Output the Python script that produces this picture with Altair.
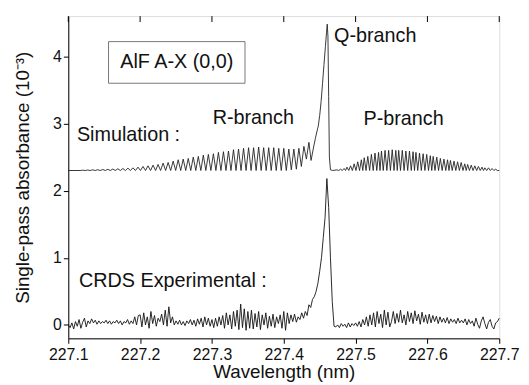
import altair as alt
import pandas as pd

# ---------------- data ----------------
# Simulated spectrum (offset baseline 2.30)
sim_baseline = 2.30
r_pos = [227.120, 227.127, 227.134, 227.141, 227.148, 227.155, 227.162, 227.169, 227.176, 227.183,
         227.190, 227.197, 227.204, 227.211, 227.218, 227.225, 227.232, 227.239, 227.246, 227.253,
         227.260, 227.267, 227.274, 227.281, 227.288, 227.295, 227.302, 227.309, 227.316, 227.323,
         227.330, 227.337, 227.344, 227.351, 227.358, 227.365, 227.372, 227.379, 227.386, 227.393,
         227.400, 227.407, 227.414, 227.421, 227.428, 227.435]
r_peak = [2.305, 2.307, 2.310, 2.312, 2.315, 2.318, 2.322, 2.326, 2.330, 2.335,
          2.340, 2.350, 2.360, 2.370, 2.380, 2.390, 2.410, 2.420, 2.440, 2.460,
          2.470, 2.480, 2.500, 2.510, 2.530, 2.540, 2.550, 2.570, 2.580, 2.590,
          2.610, 2.620, 2.630, 2.640, 2.640, 2.650, 2.640, 2.640, 2.640, 2.630,
          2.630, 2.620, 2.620, 2.630, 2.660, 2.720]
r_trough = [2.30, 2.30, 2.30, 2.30, 2.30, 2.30, 2.30, 2.30, 2.30, 2.30,
            2.30, 2.30, 2.30, 2.30, 2.30, 2.30, 2.30, 2.30, 2.30, 2.30,
            2.30, 2.30, 2.30, 2.30, 2.30, 2.30, 2.30, 2.30, 2.30, 2.30,
            2.30, 2.30, 2.30, 2.30, 2.30, 2.30, 2.30, 2.30, 2.30, 2.30,
            2.30, 2.31, 2.32, 2.36, 2.47]
q_x = [227.438, 227.441, 227.444, 227.447, 227.448, 227.450, 227.452, 227.454, 227.456,
       227.458, 227.4595, 227.4605, 227.4615, 227.4625, 227.4635, 227.465, 227.468]
q_y = [2.45, 2.62, 2.78, 2.92, 2.96, 3.12, 3.33, 3.60, 3.88,
       4.15, 4.35, 4.48, 4.30, 3.40, 2.50, 2.31, 2.30]
p_pos = [227.474, 227.479, 227.484, 227.488, 227.493, 227.498, 227.503, 227.508, 227.512, 227.517,
         227.522, 227.527, 227.532, 227.536, 227.541, 227.546, 227.551, 227.556, 227.560, 227.565,
         227.570, 227.575, 227.580, 227.584, 227.589, 227.594, 227.599, 227.604, 227.608, 227.613,
         227.618, 227.623, 227.628, 227.632, 227.637, 227.642, 227.647, 227.652, 227.656, 227.661,
         227.666, 227.671, 227.676, 227.680, 227.685, 227.690, 227.695]
p_peak = [2.31, 2.32, 2.33, 2.35, 2.37, 2.40, 2.43, 2.46, 2.49, 2.51,
          2.54, 2.56, 2.57, 2.59, 2.60, 2.60, 2.61, 2.60, 2.60, 2.60,
          2.59, 2.59, 2.58, 2.57, 2.56, 2.55, 2.54, 2.52, 2.51, 2.50,
          2.48, 2.47, 2.46, 2.45, 2.44, 2.43, 2.42, 2.40, 2.39, 2.38,
          2.37, 2.36, 2.35, 2.34, 2.34, 2.33, 2.32]
p_trough = 2.30

# CRDS experimental trace, sampled every 0.0025 nm from 227.100 to 227.700
exp_start, exp_step = 227.100, 0.0025
exp_y = [
    0.00, -0.04, 0.03, -0.06, 0.05, -0.02, 0.08, -0.05, 0.04, 0.10, -0.03, 0.06, 0.02, 0.09, 0.03, 0.07, 0.01, 0.06, 0.02, 0.05,
    0.03, 0.07, 0.02, 0.06, 0.01, 0.05, 0.03, 0.07, 0.02, 0.06, 0.00, 0.05, 0.03, 0.08, 0.01, 0.06, 0.02, 0.12, 0.00, 0.14,
    0.15, -0.03, 0.18, 0.00, 0.12, -0.05, 0.20, 0.02, 0.14, -0.02, 0.10, 0.05, 0.16, 0.00, 0.22, -0.02, 0.27, 0.03, 0.12, 0.00,
    0.06, 0.01, 0.07, 0.00, 0.05, -0.01, 0.06, 0.02, 0.08, 0.00, 0.07, -0.02, 0.09, 0.01, 0.10, -0.03, 0.12, 0.00, 0.10, -0.02,
    0.08, -0.04, 0.10, -0.02, 0.12, 0.00, 0.14, -0.05, 0.18, 0.00, 0.15, -0.06, 0.20, -0.02, 0.22, -0.07, 0.31, -0.04, 0.24, -0.08,
    0.20, -0.05, 0.22, -0.06, 0.17, -0.03, 0.20, -0.07, 0.15, 0.00, 0.18, -0.05, 0.13, -0.02, 0.16, -0.04, 0.12, 0.02, 0.15, -0.05,
    0.20, -0.08, 0.18, 0.02, 0.15, 0.05, 0.16, 0.04, 0.12, 0.08, 0.18, 0.10, 0.20, 0.14, 0.30, 0.26, 0.38, 0.42, 0.50, 0.62,
    0.80, 1.00, 1.30, 1.60, 2.18, 1.75, 1.00, 0.35, -0.02, -0.03, 0.00, -0.04, 0.02, -0.02, 0.01, -0.04, 0.03, -0.03, 0.02, -0.01,
    0.03, -0.02, 0.05, -0.03, 0.08, 0.00, 0.12, -0.02, 0.15, 0.00, 0.18, -0.03, 0.20, 0.02, 0.16, -0.04, 0.22, 0.00, 0.19, -0.03,
    0.05, 0.20, 0.02, 0.17, 0.04, 0.22, 0.03, 0.15, 0.00, 0.20, 0.05, 0.18, 0.02, 0.21, 0.06, 0.16, 0.01, 0.19, 0.04, 0.15,
    0.02, 0.16, 0.03, 0.14, 0.05, 0.13, 0.02, 0.12, 0.04, 0.10, 0.03, 0.11, 0.02, 0.09, 0.04, 0.08, 0.02, 0.10, 0.03, 0.07,
    0.03, 0.09, 0.00, 0.08, 0.02, 0.06, -0.02, 0.10, 0.01, -0.05, 0.06, 0.12, 0.02, -0.06, 0.04, 0.08, -0.02, -0.06, 0.03, 0.05, 0.10,
]

x_ticks = [227.1, 227.2, 227.3, 227.4, 227.5, 227.6, 227.7]
y_ticks = [0, 1, 2, 3, 4]
x_domain = [227.1, 227.7]
y_domain = [-0.2, 4.6]

# ---------------- build tables ----------------
sim_pts = [(227.100, sim_baseline), (r_pos[0] - 0.0035, sim_baseline)]
for i, (xp, hp) in enumerate(zip(r_pos, r_peak)):
    sim_pts.append((xp, hp))
    if i < len(r_trough):
        sim_pts.append(((xp + r_pos[i + 1]) / 2, r_trough[i]))
sim_pts += list(zip(q_x, q_y))
for i, (xp, hp) in enumerate(zip(p_pos, p_peak)):
    sim_pts.append((xp, hp))
    nxt = p_pos[i + 1] if i + 1 < len(p_pos) else xp + 0.0048
    sim_pts.append(((xp + nxt) / 2, p_trough))
sim_pts.append((227.700, sim_baseline))
sim_df = pd.DataFrame(sim_pts, columns=["x", "y"])
sim_df["i"] = range(len(sim_df))

exp_df = pd.DataFrame({"x": [exp_start + k * exp_step for k in range(len(exp_y))], "y": exp_y})
exp_df["i"] = range(len(exp_df))

FONT = "Liberation Sans"
INK = "#111111"

xs = alt.Scale(domain=x_domain, nice=False, zero=False)
ys = alt.Scale(domain=y_domain, nice=False, zero=False)

x_axis = alt.Axis(values=x_ticks, format=".1f", title="Wavelength (nm)", grid=False,
                  labelFontSize=16, titleFontSize=19, labelFont=FONT, titleFont=FONT,
                  labelColor=INK, titleColor=INK, titleFontWeight="normal",
                  tickSize=5, labelPadding=3, titlePadding=1, domainColor="black",
                  tickColor="black", labelFlush=False)
y_axis = alt.Axis(values=y_ticks, format="d", title="Single-pass absorbance (10⁻³)", grid=False,
                  labelFontSize=16, titleFontSize=19, labelFont=FONT, titleFont=FONT,
                  labelColor=INK, titleColor=INK, titleFontWeight="normal",
                  tickSize=5, labelPadding=2, titlePadding=20, domainColor="black",
                  tickColor="black", labelFlush=False)

sim_line = alt.Chart(sim_df).mark_line(color="#222222", strokeWidth=0.9).encode(
    x=alt.X("x:Q", scale=xs, axis=x_axis),
    y=alt.Y("y:Q", scale=ys, axis=y_axis),
    order="i:Q",
)
exp_line = alt.Chart(exp_df).mark_line(color="#111111", strokeWidth=0.9).encode(
    x=alt.X("x:Q", scale=xs),
    y=alt.Y("y:Q", scale=ys),
    order="i:Q",
)

top_ticks = alt.Chart(pd.DataFrame({"x": x_ticks})).mark_rule(color="black", strokeWidth=1).encode(
    x=alt.X("x:Q", scale=xs),
    y=alt.value(0),
    y2=alt.value(6),
)

box_df = pd.DataFrame({"x": [227.156], "x2": [227.346], "y": [4.22], "y2": [3.60]})
box = alt.Chart(box_df).mark_rect(fill="white", fillOpacity=0, stroke="#777777", strokeWidth=1).encode(
    x=alt.X("x:Q", scale=xs), x2="x2:Q", y=alt.Y("y:Q", scale=ys), y2="y2:Q"
)
box_text = alt.Chart(pd.DataFrame({"x": [227.251], "y": [3.91], "t": ["AlF A-X (0,0)"]})).mark_text(
    font=FONT, fontSize=20, color=INK, align="center", baseline="middle"
).encode(x=alt.X("x:Q", scale=xs), y=alt.Y("y:Q", scale=ys), text="t:N")

labels_df = pd.DataFrame({
    "x": [227.112, 227.301, 227.470, 227.511, 227.115],
    "y": [2.74, 2.99, 4.21, 2.98, 0.56],
    "t": ["Simulation :", "R-branch", "Q-branch", "P-branch", "CRDS Experimental :"],
})
labels = alt.Chart(labels_df).mark_text(
    font=FONT, fontSize=20, color=INK, align="left", baseline="alphabetic"
).encode(x=alt.X("x:Q", scale=xs), y=alt.Y("y:Q", scale=ys), text="t:N")

chart = alt.layer(sim_line, exp_line, top_ticks, box, box_text, labels).properties(
    width=436, height=326,
    autosize=alt.AutoSizeParams(type="none"),
    padding={"left": 61, "top": 6, "right": 22, "bottom": 45},
).configure_view(stroke="black", strokeWidth=1).configure(background="white")

chart.save("out.html", embed_options={"renderer": "svg", "actions": False})
